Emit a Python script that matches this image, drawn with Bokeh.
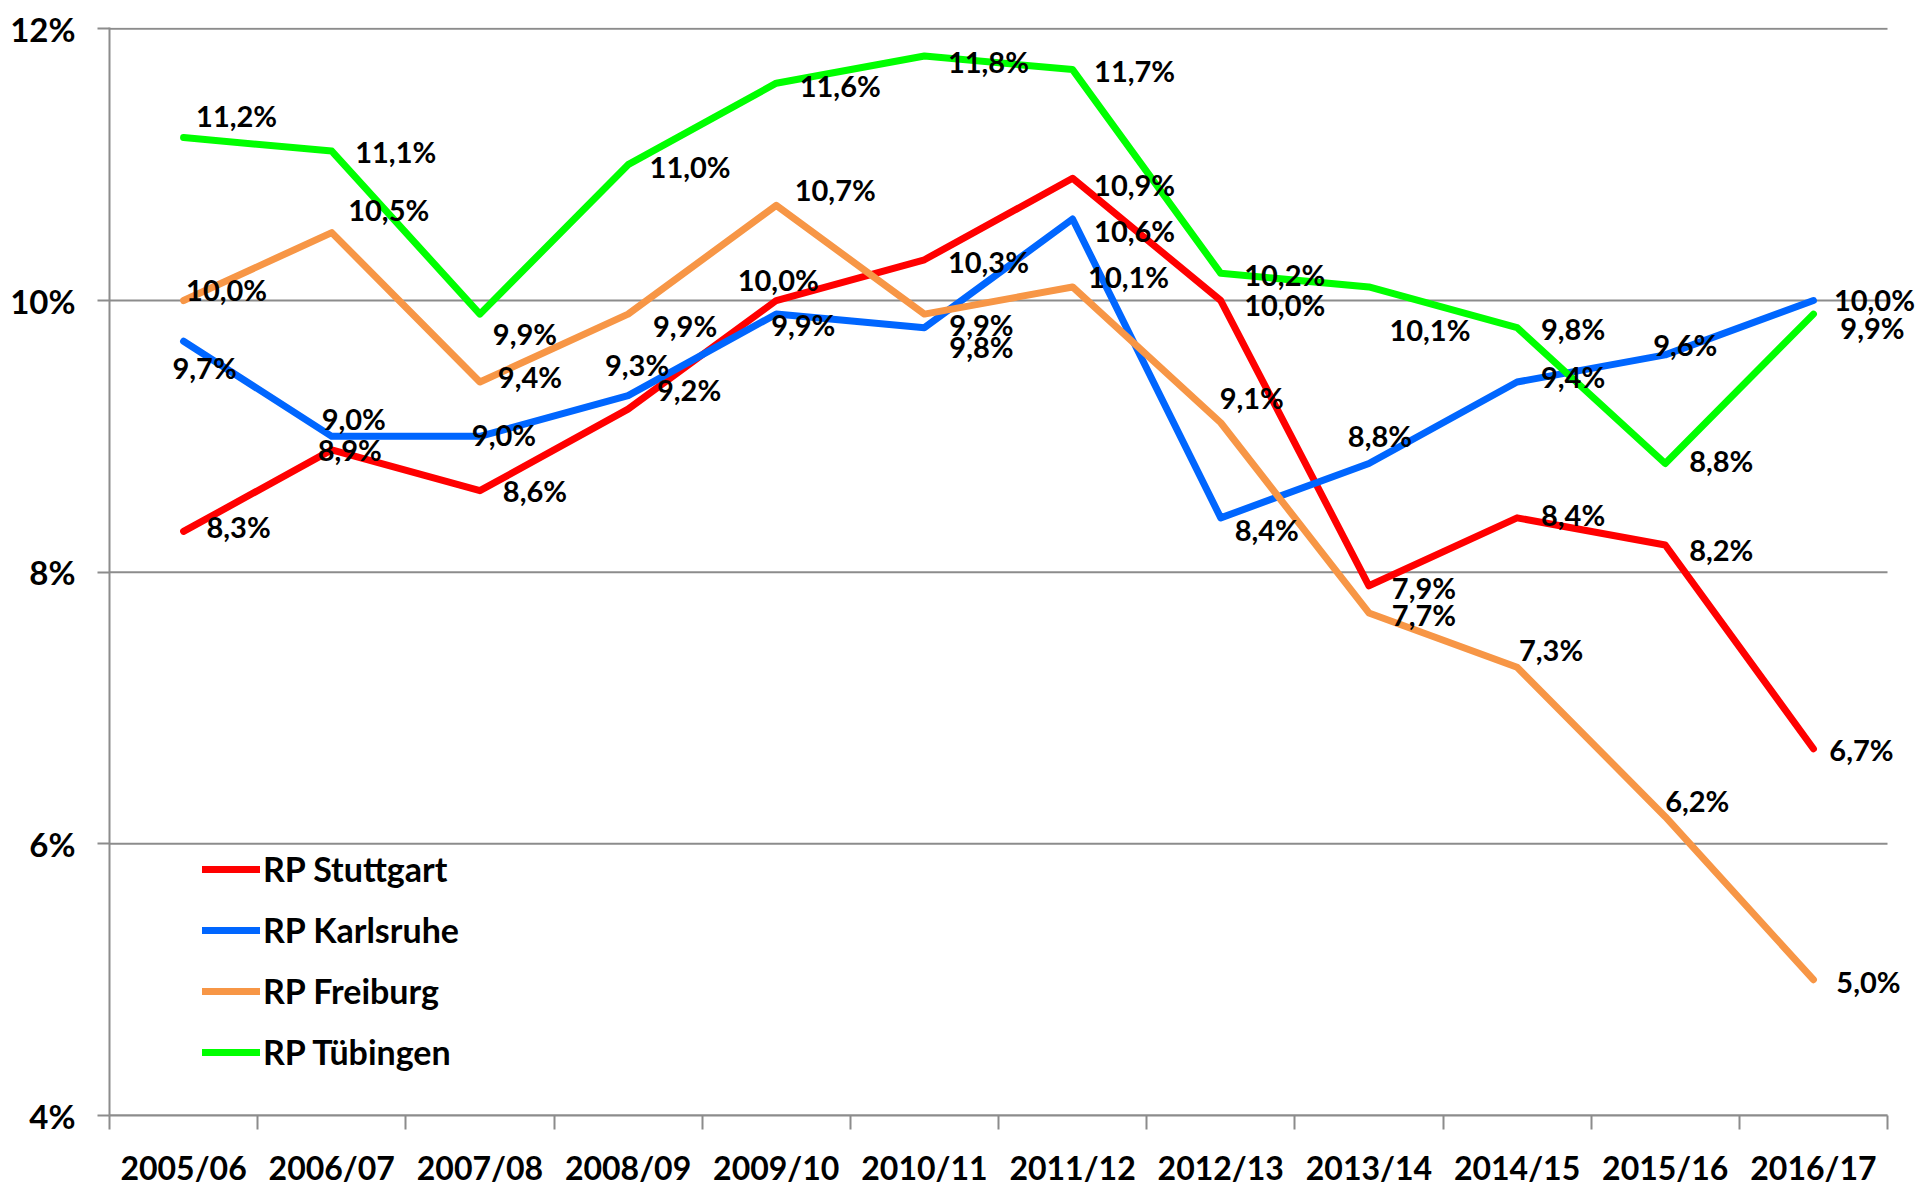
from bokeh.plotting import figure
from bokeh.models import (ColumnDataSource, Range1d, FixedTicker, LabelSet,
                          Legend, LegendItem)
from bokeh.core.properties import value
from bokeh.embed import file_html
from bokeh.resources import INLINE

# ---------------- data ----------------
categories = ["2005/06", "2006/07", "2007/08", "2008/09", "2009/10", "2010/11",
              "2011/12", "2012/13", "2013/14", "2014/15", "2015/16", "2016/17"]
stuttgart = [8.3, 8.9, 8.6, 9.2, 10.0, 10.3, 10.9, 10.0, 7.9, 8.4, 8.2, 6.7]
karlsruhe = [9.7, 9.0, 9.0, 9.3, 9.9, 9.8, 10.6, 8.4, 8.8, 9.4, 9.6, 10.0]
freiburg = [10.0, 10.5, 9.4, 9.9, 10.7, 9.9, 10.1, 9.1, 7.7, 7.3, 6.2, 5.0]
tuebingen = [11.2, 11.1, 9.9, 11.0, 11.6, 11.8, 11.7, 10.2, 10.1, 9.8, 8.8, 9.9]
series_names = ["RP Stuttgart", "RP Karlsruhe", "RP Freiburg", "RP Tübingen"]
y_ticks = [4, 6, 8, 10, 12]

# ---------------- styles / label placement (screen px) ----------------
colors = ["#FF0000", "#0066FF", "#F79646", "#00FF00"]
label_dx = [
    [55, 18, 55, 61, 2, 64, 62, 64, 55, 56, 56, 48],
    [21, 22, 24, 9, 27, 57, 62, 46, 11, 56, 20, 61],
    [43, 57, 50, 57, 59, 57, 56, 31, 55, 34, 32, 55],
    [53, 64, 45, 62, 64, 64, 62, 64, 61, 56, 56, 59],
]
label_dy = [
    [-5, 0, 0, -20, -21, 2, 6, 4, 2, -3, 4, 1],
    [26, -18, -2, -31, 10, 19, 11, 12, -28, -6, -10, -1],
    [-11, -23, -6, 11, -16, 10, -10, -25, 2, -18, -16, 2],
    [-22, 0, 19, 2, 2, 5, 1, 1, 43, 1, -3, 13],
]

FONT = "Lato"
GRAY = "#8C8C8C"

n = len(categories)
xs = [i + 1 for i in range(n)]
x_lo, x_hi = 0.5, n + 0.5

PLOT_W = 1778          # width of the category area in px
EXTRA_W = 28           # room to the right for the last labels
unit = PLOT_W / n
x_end = x_hi + EXTRA_W / unit

p = figure(output_backend="svg", toolbar_location=None,
           frame_width=PLOT_W + EXTRA_W, frame_height=1088,
           min_border_left=109, min_border_top=27, min_border_right=0,
           min_border_bottom=72,
           x_range=Range1d(x_lo, x_end),
           y_range=Range1d(min(y_ticks), max(y_ticks) + 0.01))
p.outline_line_color = None
p.background_fill_color = "white"
p.border_fill_color = "white"

# horizontal grid lines, limited to the category area
p.segment(x0=[x_lo] * len(y_ticks), x1=[x_hi] * len(y_ticks),
          y0=y_ticks, y1=y_ticks, line_color=GRAY, line_width=2)

# x axis
p.xaxis.bounds = (x_lo, x_hi)
p.xaxis.ticker = FixedTicker(ticks=xs, minor_ticks=[x - 0.5 for x in xs] + [xs[-1] + 0.5])
p.xaxis.major_label_overrides = {x: c for x, c in zip(xs, categories)}
p.xaxis.major_tick_out = 0
p.xaxis.major_tick_in = 0
p.xaxis.minor_tick_out = 14
p.xaxis.minor_tick_in = 0
p.xaxis.minor_tick_line_color = GRAY
p.xaxis.minor_tick_line_width = 2
p.xaxis.axis_line_color = GRAY
p.xaxis.axis_line_width = 2
p.xaxis.major_label_standoff = 18
p.xaxis.major_label_text_font = FONT
p.xaxis.major_label_text_font_style = "bold"
p.xaxis.major_label_text_font_size = "32px"
p.xaxis.major_label_text_color = "black"

# y axis
p.yaxis.ticker = FixedTicker(ticks=y_ticks)
p.yaxis.major_label_overrides = {t: f"{t}%" for t in y_ticks}
p.yaxis.major_tick_out = 12
p.yaxis.major_tick_in = 0
p.yaxis.minor_tick_out = 0
p.yaxis.minor_tick_in = 0
p.yaxis.major_tick_line_color = GRAY
p.yaxis.major_tick_line_width = 2
p.yaxis.axis_line_color = GRAY
p.yaxis.axis_line_width = 2
p.yaxis.major_label_standoff = 22
p.yaxis.major_label_text_font = FONT
p.yaxis.major_label_text_font_style = "bold"
p.yaxis.major_label_text_font_size = "33px"
p.yaxis.major_label_text_color = "black"

p.xgrid.grid_line_color = None
p.ygrid.grid_line_color = None

all_series = [stuttgart, karlsruhe, freiburg, tuebingen]
items = []
for name, vals, col, dxs, dys in zip(series_names, all_series, colors, label_dx, label_dy):
    src = ColumnDataSource(dict(
        x=xs, y=vals,
        label=[f"{v:.1f}".replace(".", ",") + "%" for v in vals],
        dx=dxs, dy=[-d for d in dys],
    ))
    r = p.line("x", "y", source=src, line_color=col, line_width=7,
               line_join="round", line_cap="round")
    items.append(LegendItem(label=name, renderers=[r]))
    p.add_layout(LabelSet(x="x", y="y", text="label", source=src,
                          x_offset="dx", y_offset="dy",
                          text_align="center", text_baseline="middle",
                          text_font=value(FONT), text_font_style="bold",
                          text_font_size="29px", text_color="black"))

legend = Legend(items=items, location=(93, 43),
                glyph_width=58, glyph_height=40, label_height=40,
                label_standoff=3, spacing=20, padding=0, margin=0,
                border_line_color=None, background_fill_alpha=0,
                label_text_font=FONT, label_text_font_style="bold",
                label_text_font_size="34px", label_text_color="black",
                label_text_baseline="middle")
p.add_layout(legend, "center")

open("out.html", "w").write(file_html(p, INLINE))
